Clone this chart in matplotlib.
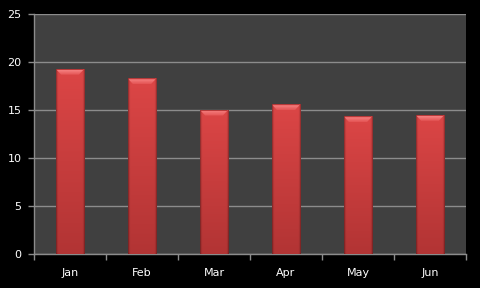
import numpy as np
import matplotlib
matplotlib.use("Agg")
import matplotlib.pyplot as plt
from matplotlib.patches import Polygon
from matplotlib.colors import to_rgb

months = ["Jan", "Feb", "Mar", "Apr", "May", "Jun"]
values = [19.3, 18.3, 15.05, 15.6, 14.35, 14.5]
y_ticks = [0, 5, 10, 15, 20, 25]

W, H = 480, 288
fig = plt.figure(figsize=(W / 100, H / 100), dpi=100, facecolor="black")
ax = fig.add_axes([34 / W, (288 - 254) / H, 432 / W, 240 / H])
ax.set_facecolor("#404040")

x = np.arange(len(months))
bar_w = 0.40
bars = ax.bar(x, values, width=bar_w, color="none", edgecolor="none", zorder=3)
ax.set_xlim(-0.5, len(months) - 0.5)
ax.set_ylim(0, 25)

# gradient body
ny, nx = 200, 60
xs = np.linspace(-1, 1, nx)
edge = np.clip((1 - np.abs(xs)) / 0.15, 0, 1)
hprof = 0.6 + 0.4 * np.sqrt(edge)
top_c = np.array(to_rgb("#dc4646"))
bot_c = np.array(to_rgb("#b23434"))
ts = np.linspace(0, 1, ny)[:, None]
base = top_c * (1 - ts[..., None]) + bot_c * ts[..., None]
img = np.clip(base * hprof[None, :, None], 0, 1)

# bevel gradient (light at top, fading down)
bev = np.zeros((20, 2, 4))
bt = np.linspace(0, 1, 20)[:, None]
c1 = np.array(to_rgb("#f58080"))
c2 = np.array(to_rgb("#e45454"))
bev[..., :3] = c1 * (1 - bt[..., None]) + c2 * bt[..., None]
bev[..., 3] = 1.0

px_y = 240 / 25
px_x = 432 / 6
for b, v in zip(bars, values):
    x0 = b.get_x()
    x1 = x0 + b.get_width()
    im = ax.imshow(img, extent=[x0, x1, 0, v], aspect="auto", zorder=3,
                   interpolation="bilinear")
    im.set_clip_path(b)
    bh = 6 / px_y
    bi = 5.5 / px_x
    bi_e = 1.0 / px_x
    tl = 1.0 / px_y
    bevel = Polygon([[x0 + bi_e, v - tl], [x1 - bi_e, v - tl], [x1 - bi, v - bh], [x0 + bi, v - bh]],
                    closed=True, facecolor="none", edgecolor="none", zorder=4)
    ax.add_patch(bevel)
    bim = ax.imshow(bev, extent=[x0, x1, v - bh, v - tl], aspect="auto", zorder=4,
                    interpolation="bilinear")
    bim.set_clip_path(bevel)
    top = Polygon([[x0 + bi_e, v], [x1 - bi_e, v], [x1 - bi_e, v - tl], [x0 + bi_e, v - tl]],
                  closed=True, facecolor="#b53a3a", edgecolor="none", zorder=5)
    ax.add_patch(top)

ax.set_yticks(y_ticks)
ax.set_yticklabels([str(t) for t in y_ticks])
ax.yaxis.grid(True, color="#8c8c8c", linewidth=1.0, zorder=1)
ax.set_axisbelow(True)

ax.set_xticks(np.arange(-0.5, len(months), 1.0))
ax.set_xticklabels([])
ax.set_xticks(x, minor=True)
ax.set_xticklabels(months, minor=True)
ax.tick_params(axis="x", which="minor", length=0, pad=10)
ax.tick_params(axis="both", which="major", length=4, width=1, color="#8c8c8c",
               colors="white", labelsize=8)
ax.tick_params(axis="x", which="minor", colors="white", labelsize=8)
ax.tick_params(axis="y", pad=5)

for s in ["top", "right"]:
    ax.spines[s].set_visible(False)
for s in ["left", "bottom"]:
    ax.spines[s].set_color("#8c8c8c")
    ax.spines[s].set_linewidth(1)

fig.savefig("out.png", dpi=100, facecolor="black")
